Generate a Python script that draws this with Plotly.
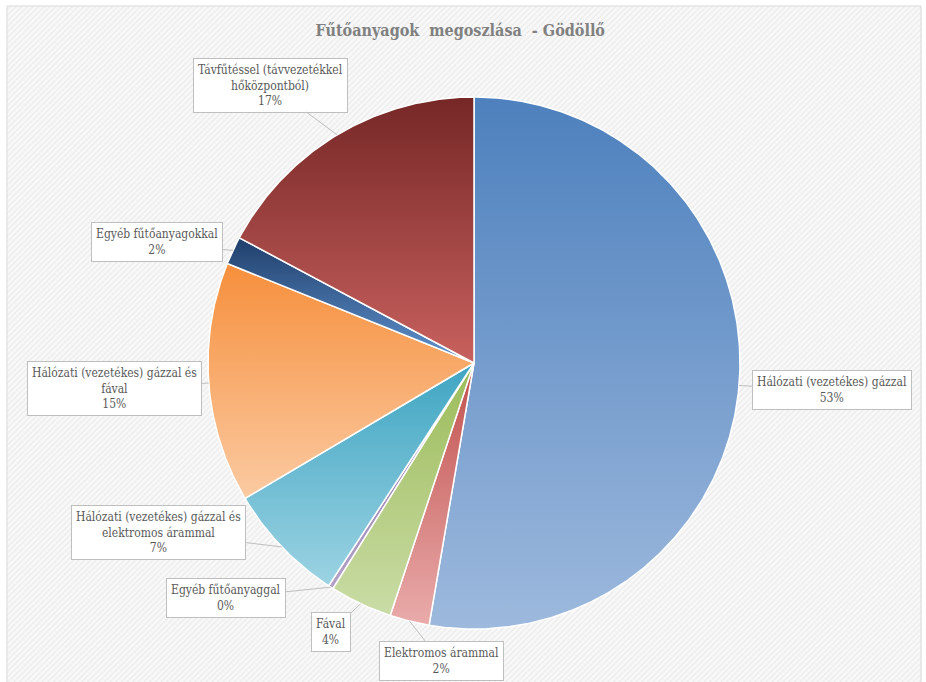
import math
import plotly.graph_objects as go

# Heating fuel shares in Gödöllő (percent of dwellings), clockwise from 12 o'clock
categories = [
    "Hálózati (vezetékes) gázzal",
    "Elektromos árammal",
    "Fával",
    "Egyéb fűtőanyaggal",
    "Hálózati (vezetékes) gázzal és<br>elektromos árammal",
    "Hálózati (vezetékes) gázzal és<br>fával",
    "Egyéb fűtőanyagokkal",
    "Távfűtéssel (távvezetékkel<br>hőközpontból)",
]
values = [52.7, 2.4, 3.8, 0.3, 7.3, 14.6, 1.7, 17.2]

# gradient colours per slice: (top, bottom)
slice_colors = [
    ("#4d80bd", "#9db9dd"),
    ("#c0504d", "#e9abaa"),
    ("#9bbb59", "#cadca6"),
    ("#8064a2", "#b3a2c7"),
    ("#3fa5c2", "#9cd3e3"),
    ("#f68f3c", "#fbcaa2"),
    ("#1f3f6b", "#6193cf"),
    ("#752726", "#c8615e"),
]

# label box centres (canvas units)
label_pos = [
    (832, 292),
    (441, 21),
    (331, 50),
    (226, 84),
    (158, 150),
    (114, 294),
    (157, 440),
    (270, 597),
]

W, H = 926, 682
cx, cy, r = 474, 319, 266
SERIF = "DejaVu Serif Condensed, DejaVu Serif"

fig = go.Figure()

# hatched chart-area background
fig.add_trace(go.Scatter(
    x=[7, 921, 921, 7, 7], y=[-10, -10, 676, 676, -10],
    mode="lines", fill="toself",
    line=dict(color="#d9d9d9", width=1),
    fillcolor="rgba(0,0,0,0)",
    fillpattern=dict(shape="/", size=4, solidity=0.25,
                     fgcolor="#d6d6d6", bgcolor="#f8f8f8"),
    hoverinfo="skip", showlegend=False,
))

total = sum(values)
start = 0.0
annotations = []
for name, v, (ctop, cbot), (lx, ly) in zip(categories, values, slice_colors, label_pos):
    span = 360.0 * v / total
    end = start + span
    n = max(2, int(span * 2))
    xs, ys = [cx], [cy]
    for i in range(n + 1):
        a = math.radians(start + span * i / n)
        xs.append(cx + r * math.sin(a))
        ys.append(cy + r * math.cos(a))
    xs.append(cx)
    ys.append(cy)
    pct = round(v / total * 100)
    fig.add_trace(go.Scatter(
        x=xs, y=ys, mode="lines", fill="toself",
        line=dict(color="white", width=1.5),
        fillgradient=dict(type="vertical",
                          colorscale=[[0, cbot], [1, ctop]]),
        name=name.replace("<br>", " "),
        hovertemplate=f"{name.replace('<br>', ' ')}: {pct}%<extra></extra>",
        showlegend=False,
    ))
    mid = math.radians(start + span / 2)
    tip_x = cx + r * math.sin(mid)
    tip_y = cy + r * math.cos(mid)
    annotations.append(dict(
        x=tip_x, y=tip_y, xref="x", yref="y",
        ax=lx, ay=ly, axref="x", ayref="y",
        text=f"{name}<br>{pct}%",
        showarrow=True, arrowhead=0, arrowwidth=1, arrowcolor="#bfbfbf",
        standoff=0,
        font=dict(family=SERIF, size=12, color="#595959"),
        bgcolor="white", bordercolor="#bfbfbf", borderwidth=1, borderpad=4,
        align="center",
    ))
    start = end

fig.update_layout(
    width=W, height=H,
    margin=dict(l=0, r=0, t=0, b=0),
    paper_bgcolor="white", plot_bgcolor="white",
    font=dict(family=SERIF),
    xaxis=dict(range=[0, W], visible=False, fixedrange=True),
    yaxis=dict(range=[0, H], visible=False, fixedrange=True,
               scaleanchor="x", scaleratio=1),
    annotations=annotations,
    title=dict(
        text="<b>Fűtőanyagok  megoszlása  - Gödöllő</b>",
        x=0.497, xanchor="center", y=1 - 30 / H, yanchor="middle",
        font=dict(family=SERIF, size=16, color="#808080"),
    ),
)

fig.write_html("out.html")
